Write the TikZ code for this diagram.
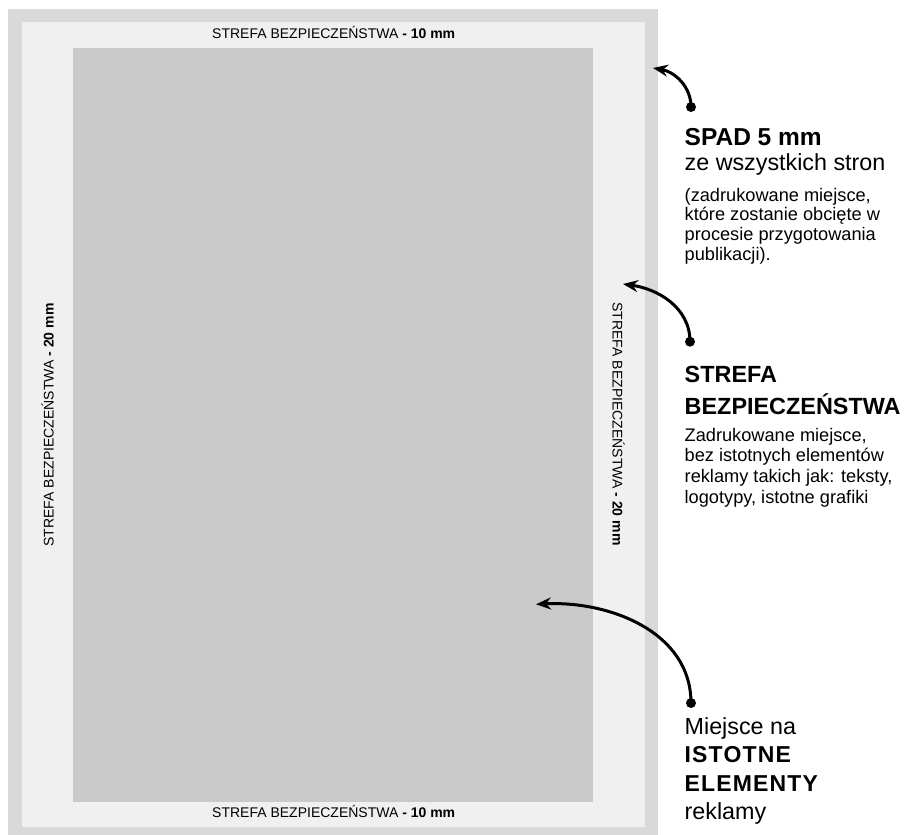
\documentclass[tikz,border=0pt]{standalone}
\usepackage{fontspec}
\setmainfont{Liberation Sans}
\usetikzlibrary{arrows.meta}
\definecolor{bleed}{RGB}{217,217,217}
\definecolor{safe}{RGB}{240,240,240}
\definecolor{core}{RGB}{201,201,201}
\tikzset{
  zone/.style={fill=#1, draw=none},
  small/.style={font=\fontsize{14}{16}\selectfont, inner sep=0pt},
  head/.style={font=\fontsize{23.4}{26}\selectfont\bfseries, anchor=base west, inner sep=0pt},
  sub/.style={font=\fontsize{23.3}{26}\selectfont, anchor=base west, inner sep=0pt},
  note/.style={font=\fontsize{18.2}{20}\selectfont, anchor=base west, inner sep=0pt},
  spaced/.style={font=\fontsize{23}{26}\selectfont\bfseries\addfontfeature{LetterSpace=5}, anchor=base west, inner sep=0pt},
  pin/.style={circle, fill=black, inner sep=0pt, minimum size=10pt},
  pointer/.style={line width=3pt, -{Stealth[length=15pt, width=12pt, inset=5pt]}}
}
\begin{document}
\begin{tikzpicture}[x=1pt,y=-1pt]
\useasboundingbox (0,0) rectangle (906,835);
% zones
\fill[zone=bleed] (8,9) rectangle (657.7,845);
\fill[zone=safe] (21.7,22.3) rectangle (645,827);
\fill[zone=core] (73,47.7) rectangle (592.7,801.7);
% zone labels
\node[small, anchor=base] (top) at (333.7,38.7) {STREFA BEZPIECZEŃSTWA \textbf{- 10 mm}};
\node[small, anchor=base] (bottom) at (333.7,817.5) {STREFA BEZPIECZEŃSTWA \textbf{- 10 mm}};
\node[small, rotate=90] (left) at (47.5,425) {STREFA BEZPIECZEŃSTWA \textbf{- 20 mm}};
\node[small, rotate=-90] (right) at (618.5,424) {STREFA BEZPIECZEŃSTWA \textbf{- 20 mm}};
% block 1
\node[head, font=\fontsize{24.5}{26}\selectfont\bfseries] (spad) at (684.5,145) {SPAD 5 mm};
\node[sub] (spad2) at (684.5,170) {ze wszystkich stron};
\node[note] (n11) at (684.5,201) {(zadrukowane miejsce,};
\node[note] (n12) at (684.5,220.7) {które zostanie obcięte w};
\node[note] (n13) at (684.5,240.5) {procesie przygotowania};
\node[note] (n14) at (684.5,260.2) {publikacji).};
% block 2
\node[head] (sb1) at (684.5,382.7) {STREFA};
\node[head] (sb2) at (684.5,414) {BEZPIECZEŃSTWA};
\node[note] (n21) at (684.5,441.3) {Zadrukowane miejsce,};
\node[note] (n22) at (684.5,461.9) {bez istotnych elementów};
\node[note] (n23) at (684.5,482.5) {reklamy takich jak: teksty,};
\node[note] (n24) at (684.5,503) {logotypy, istotne grafiki};
% block 3
\node[sub] (m1) at (684.5,734) {Miejsce na};
\node[spaced] (m2) at (684.5,762.7) {ISTOTNE};
\node[spaced] (m3) at (684.5,791.7) {ELEMENTY};
\node[sub] (m4) at (684.5,819) {reklamy};
% pointers
\node[pin] (d1) at (691,107) {};
\node[pin] (d2) at (690,341.7) {};
\node[pin] (d3) at (691,703) {};
\coordinate (t1) at (653,68);
\coordinate (t2) at (623,284);
\coordinate (t3) at (536,604.3);
\draw[pointer] (d1.center) to[out=90, in=-10] (t1);
\draw[pointer] (d2.center) to[out=90, in=-8] (t2);
\draw[pointer] (d3.center) to[out=90, in=3] (t3);
\end{tikzpicture}
\end{document}
